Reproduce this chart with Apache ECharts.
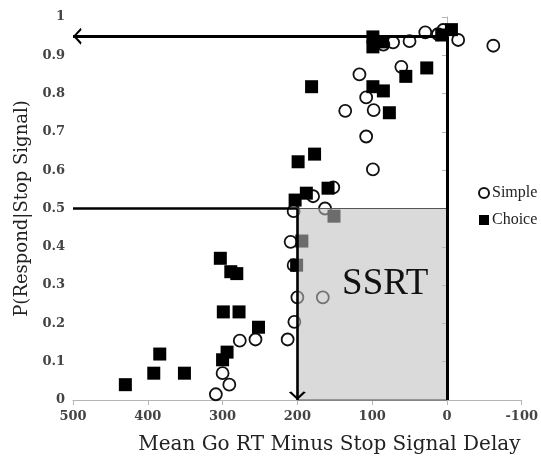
<!DOCTYPE html>
<html>
<head>
<meta charset="utf-8">
<script src="https://cdn.jsdelivr.net/npm/echarts@6/dist/echarts.min.js"></script>
<style>
  html, body { margin: 0; padding: 0; background: #ffffff; }
  #chart { width: 541px; height: 460px; }
</style>
</head>
<body>
<div id="chart"></div>
<script>
// Simple task: mean Go RT minus stop-signal delay (ms) vs P(respond | stop signal)
const simpleDelay = [-62, -15, 5, 12, 29, 50, 72, 85, 61, 117, 108, 136, 98, 108, 99, 152, 179, 163, 205, 209, 205, 200, 166, 204, 213, 256, 277, 300, 291, 309];
const simpleProb  = [0.925, 0.94, 0.966, 0.955, 0.96, 0.937, 0.934, 0.928, 0.87, 0.85, 0.79, 0.755, 0.757, 0.688, 0.602, 0.555, 0.532, 0.50, 0.493, 0.413, 0.352, 0.268, 0.268, 0.204, 0.158, 0.158, 0.155, 0.07, 0.04, 0.015];

// Choice task
const choiceDelay = [430, 392, 384, 351, 303, 289, 281, 299, 278, 252, 294, 300, 201, 194, 151, 203, 188, 159, 199, 177, 181, 99, 85, 77, 55, 27, 99, 99, 86, 7, -6];
const choiceProb  = [0.04, 0.07, 0.12, 0.07, 0.37, 0.335, 0.33, 0.23, 0.23, 0.19, 0.125, 0.105, 0.352, 0.415, 0.48, 0.522, 0.54, 0.553, 0.622, 0.642, 0.818, 0.818, 0.807, 0.75, 0.845, 0.867, 0.948, 0.922, 0.935, 0.953, 0.967];

// Reference construction: P = 0.95 at delay 0, P = 0.5 at delay 200 -> SSRT band
const axisLeftValue = 500;
const ceilingProb = 0.95;
const halfProb = 0.5;
const ssrtFrom = 200;
const ssrtTo = 0;

const serif = 'Liberation Serif';
// Open chevron arrowhead; the far point keeps the tip at the symbol centre
const chevron = 'path://M5,0 L10,8.2 L8.6,9 L5,2.8 L1.4,9 L0,8.2 Z M5,-9 L5,-9.01';

const chart = echarts.init(document.getElementById('chart'), null, { renderer: 'canvas' });

chart.setOption({
  backgroundColor: '#ffffff',
  animation: false,
  grid: { left: 73, right: 18, top: 17, bottom: 60 },
  legend: {
    orient: 'vertical',
    left: 473,
    top: 180,
    itemWidth: 10,
    itemHeight: 10,
    itemGap: 11,
    data: ['Simple', 'Choice'],
    textStyle: { fontFamily: serif, fontSize: 16, color: '#222', padding: [0, 0, 0, -2] }
  },
  xAxis: {
    type: 'value',
    inverse: true,
    min: -100,
    max: 500,
    interval: 100,
    name: 'Mean Go RT Minus Stop Signal Delay',
    nameLocation: 'middle',
    nameGap: 35,
    nameTextStyle: { fontFamily: 'DejaVu Serif', fontSize: 20, color: '#222', padding: [0, 0, 0, 64] },
    axisLine: { lineStyle: { color: '#b5b5b5', width: 1 } },
    axisTick: { length: 5, lineStyle: { color: '#b5b5b5' } },
    axisLabel: { fontFamily: 'DejaVu Serif', fontWeight: 'bold', fontSize: 13, color: '#444', margin: 10 },
    splitLine: { show: false }
  },
  yAxis: {
    type: 'value',
    min: 0,
    max: 1,
    interval: 0.1,
    name: 'P(Respond|Stop Signal)',
    nameLocation: 'middle',
    nameGap: 42,
    nameTextStyle: { fontFamily: 'DejaVu Serif', fontSize: 18, color: '#222' },
    axisLine: { show: true, lineStyle: { color: '#b5b5b5', width: 1 } },
    axisTick: { show: true, length: 5, lineStyle: { color: '#b5b5b5' } },
    axisLabel: { fontFamily: 'DejaVu Serif', fontWeight: 'bold', fontSize: 13, color: '#444', margin: 8 },
    splitLine: { show: false }
  },
  series: [
    {
      name: 'Simple',
      type: 'scatter',
      z: 2,
      symbol: 'circle',
      symbolSize: 12,
      itemStyle: { color: '#ffffff', borderColor: '#111', borderWidth: 1.8, opacity: 1 },
      data: simpleDelay.map((d, i) => [d, simpleProb[i]])
    },
    {
      name: 'Choice',
      type: 'scatter',
      z: 2,
      symbol: 'rect',
      symbolSize: 13,
      itemStyle: { color: '#000000', opacity: 1 },
      data: choiceDelay.map((d, i) => [d, choiceProb[i]])
    },
    {
      // translucent SSRT band laid over the points
      name: 'ssrt-band',
      type: 'line',
      z: 3,
      data: [],
      silent: true,
      markArea: {
        z: 8,
        silent: true,
        itemStyle: { color: 'rgba(190,190,190,0.57)', borderColor: '#555', borderWidth: 1 },
        label: {
          show: true,
          position: 'inside',
          offset: [13, -20],
          fontFamily: serif,
          fontSize: 37,
          color: '#111'
        },
        data: [[
          { name: 'SSRT', coord: [ssrtFrom, 0] },
          { coord: [ssrtTo, halfProb] }
        ]]
      }
    },
    {
      name: 'guides',
      type: 'line',
      z: 4,
      data: [],
      silent: true,
      markLine: {
        z: 10,
        silent: true,
        animation: false,
        symbolSize: 17,
        label: { show: false },
        lineStyle: { color: '#000', type: 'solid', width: 3 },
        data: [
          [
            { coord: [ssrtTo, ceilingProb], symbol: 'none' },
            { coord: [axisLeftValue, ceilingProb], symbol: chevron }
          ],
          [
            { coord: [ssrtTo, ceilingProb], symbol: 'none' },
            { coord: [ssrtTo, 0], symbol: 'none' }
          ],
          [
            { coord: [axisLeftValue, halfProb], symbol: 'none', lineStyle: { width: 2.6 } },
            { coord: [ssrtFrom, halfProb], symbol: 'none' }
          ],
          [
            { coord: [ssrtFrom, halfProb], symbol: 'none', lineStyle: { width: 2.6 } },
            { coord: [ssrtFrom, 0], symbol: chevron }
          ]
        ]
      }
    }
  ]
});
</script>
</body>
</html>
